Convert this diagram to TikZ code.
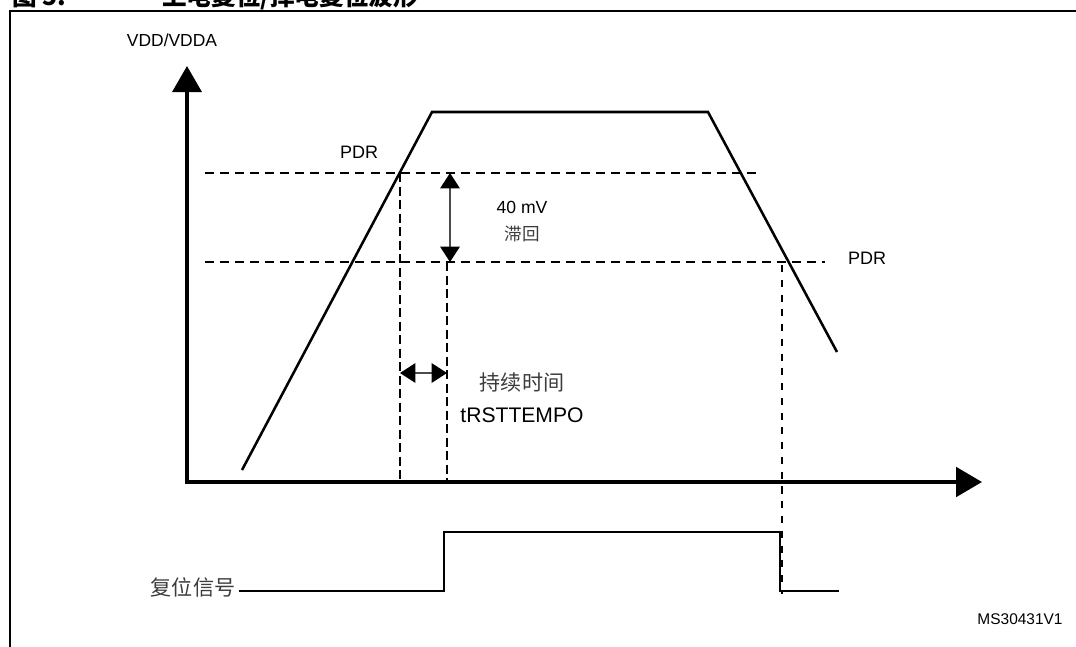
\documentclass[tikz,border=0pt]{standalone}
\usepackage{fontspec}
\setmainfont{Liberation Sans}
\newfontfamily\cjk{Noto Sans CJK SC}
\usepackage{xcolor}
\usepackage{tikz}
\usetikzlibrary{arrows.meta}
\definecolor{porink}{HTML}{000000}
\definecolor{porgray}{HTML}{3C3C3C}

\begin{document}
\begin{tikzpicture}[x=0.025cm,y=-0.025cm,line join=miter,
    axis/.style={line width=2.6pt,{Triangle[length=18.5pt,width=20.6pt]}-{Triangle[length=18.5pt,width=21pt]}},
    wave/.style={line width=1.8pt,porink},
    pdrline/.style={line width=1.3pt,dash pattern=on 6.4pt off 4.3pt},
    guide/.style={line width=0.9pt,dash pattern=on 6.4pt off 3.2pt},
    span/.style={line width=1pt,draw=black!70,{Triangle[length=11pt,width=14pt,color=porink]}-{Triangle[length=11pt,width=14pt,color=porink]}},
    lbl/.style={inner sep=0pt,font=\fontsize{12.5}{14}\selectfont},
    cjklbl/.style={inner sep=0pt,text=porgray,font=\cjk\fontsize{15}{17}\selectfont}]
  \useasboundingbox (0,0) rectangle (1076,646);
  \clip (0,0) rectangle (1076,646);
  % caption, cut at the top edge, and frame
  \node[anchor=base west,inner sep=0pt,font=\cjk\bfseries\fontsize{17.5}{19}\selectfont] (fignum) at (12,5) {图 5.};
  \node[anchor=base west,inner sep=0pt,font=\cjk\bfseries\fontsize{17.5}{19}\selectfont] (figtitle) at (162,5) {上电复位/掉电复位波形};
  \draw[line width=1.8pt] (10,650) -- (10,11) -- (1080,11);
  % axes
  \coordinate (origin) at (187,482);
  \coordinate (ytip) at (187,66);
  \coordinate (xtip) at (982,482);
  \draw[axis] (ytip) -- (origin) -- (xtip);
  \node[lbl,font=\fontsize{12.4}{14}\selectfont] (vdd) at (172,40) {VDD/VDDA};
  % supply ramp
  \coordinate (rampstart) at (242,470);
  \coordinate (plateauL) at (432,112);
  \coordinate (plateauR) at (708,112);
  \coordinate (rampend) at (837,352);
  \draw[wave] (rampstart) -- (plateauL) -- (plateauR) -- (rampend);
  % thresholds
  \coordinate (pdrhi) at (400,173);
  \coordinate (pdrlo) at (447,262);
  \coordinate (pdrfall) at (782,265);
  \draw[pdrline] (205,173) -- (757,173);
  \draw[pdrline] (205,262) -- (825,262);
  \node[lbl,font=\fontsize{12.8}{14}\selectfont] (pdrup) at (359,152) {PDR};
  \node[lbl,font=\fontsize{12.8}{14}\selectfont] (pdrright) at (867,258) {PDR};
  \draw[guide] (pdrhi) -- (pdrhi |- origin);
  \draw[guide] (pdrlo) -- (pdrlo |- origin);
  \draw[line width=1.9pt,dash pattern=on 5pt off 5.5pt] (pdrfall) -- (782,594);
  % hysteresis and delay
  \draw[span] (450,173) -- (450,262);
  \node[lbl] (hyst) at (522,207) {40 mV};
  \node[cjklbl,font=\cjk\fontsize{12.5}{14}\selectfont] (hystcn) at (522,234) {滞回};
  \draw[span] (400,373) -- (447,373);
  \node[cjklbl] (durcn) at (522,382) {持续时间};
  \node[lbl,font=\fontsize{15}{17}\selectfont] (dur) at (522,415) {tRSTTEMPO};
  % reset signal
  \node[cjklbl] (rst) at (193,587) {复位信号};
  \coordinate (rstrise) at (444,591);
  \coordinate (rstfall) at (780,532);
  \draw[line width=2pt] (rst.east) ++(4,4) -- (rstrise) -- (rstrise |- rstfall) -- (rstfall) -- (rstfall |- rstrise) -- (839,591);
  \node[lbl,font=\fontsize{11}{13}\selectfont] (docid) at (1020,619) {MS30431V1};
\end{tikzpicture}
\end{document}
